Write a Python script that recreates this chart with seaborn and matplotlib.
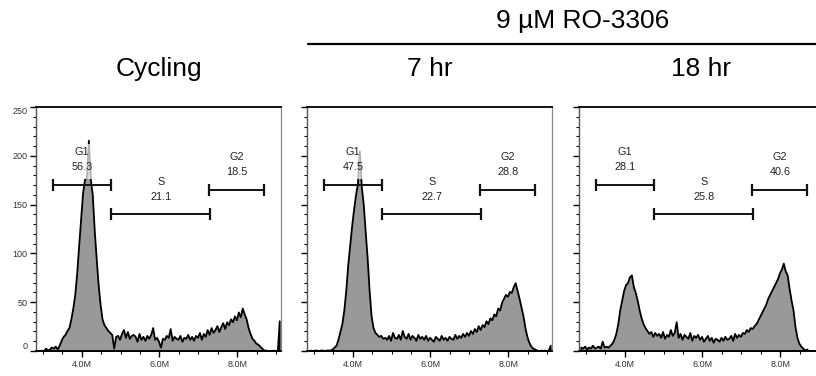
import numpy as np
import pandas as pd
import matplotlib
matplotlib.use("Agg")
import matplotlib.pyplot as plt
from matplotlib.patches import Rectangle
from matplotlib.ticker import FixedLocator, MultipleLocator
import seaborn as sns

# DNA content histograms: events per 0.05M bin, first bin starting at 2.85M
bin_start = 2.85
bin_width = 0.05

cycling_counts = [
    0, 0, 1, 0, 3, 1, 2, 4, 3, 5,
    2, 6, 11, 15, 17, 21, 24, 33, 44, 58,
    80, 108, 135, 162, 176, 178, 216, 176, 160, 124,
    95, 68, 48, 33, 27, 24, 21, 19, 17, 3,
    15, 16, 12, 18, 22, 14, 20, 13, 16, 17,
    15, 10, 18, 12, 15, 11, 16, 13, 17, 24,
    12, 14, 10, 4, 13, 12, 16, 14, 23, 11,
    15, 13, 12, 16, 10, 14, 13, 17, 12, 15,
    11, 16, 14, 19, 12, 18, 15, 22, 17, 24,
    19, 22, 26, 20, 25, 29, 23, 30, 27, 33,
    30, 36, 32, 40, 35, 44, 38, 33, 24, 18,
    13, 11, 8, 7, 5, 3, 1, 1, 0, 0,
    0, 1, 0, 0, 31,
]

ro_7hr_counts = [
    0, 1, 0, 1, 1, 0, 1, 1, 0, 1,
    1, 1, 2, 4, 6, 12, 20, 28, 42, 62,
    88, 108, 128, 145, 160, 172, 205, 168, 150, 122,
    95, 62, 36, 24, 19, 17, 15, 16, 13, 14,
    12, 16, 11, 19, 14, 13, 17, 12, 21, 15,
    13, 18, 12, 16, 14, 11, 17, 13, 15, 12,
    16, 11, 14, 12, 10, 15, 13, 11, 16, 12,
    14, 11, 15, 13, 12, 17, 13, 16, 14, 18,
    15, 19, 16, 21, 18, 23, 20, 26, 22, 27,
    25, 31, 28, 34, 32, 38, 36, 44, 42, 50,
    54, 58, 56, 61, 60, 66, 70, 62, 54, 45,
    36, 24, 15, 9, 5, 3, 2, 1, 0, 1,
    0, 1, 0, 1, 6,
]

ro_18hr_counts = [
    4, 3, 5, 2, 4, 3, 6, 3, 4, 5,
    3, 10, 4, 5, 4, 6, 8, 12, 18, 28,
    42, 52, 62, 68, 70, 76, 78, 66, 60, 52,
    42, 34, 28, 24, 21, 18, 20, 15, 19, 16,
    18, 14, 20, 13, 17, 15, 22, 16, 19, 30,
    14, 18, 12, 17, 15, 13, 19, 11, 16, 14,
    17, 12, 15, 10, 13, 16, 11, 14, 9, 13,
    12, 10, 14, 11, 15, 12, 13, 16, 11, 18,
    14, 17, 15, 19, 18, 22, 20, 24, 23, 26,
    28, 32, 36, 40, 44, 48, 54, 58, 62, 66,
    70, 74, 80, 84, 90, 82, 78, 64, 52, 42,
    25, 14, 8, 5, 3, 1, 2, 0, 0, 0,
    0, 0, 0, 0, 0,
]

panel_counts = [cycling_counts, ro_7hr_counts, ro_18hr_counts]
panel_titles = ["Cycling", "7 hr", "18 hr"]
treatment_label = "9 µM RO-3306"

# Cell-cycle gates (shared by all samples) and their percentages
gate_names = ["G1", "S", "G2"]
gate_lo = [3.27, 4.76, 7.28]
gate_hi = [4.76, 7.30, 8.69]
gate_level = [170, 140, 165]
gate_pct = [
    [56.3, 21.1, 18.5],
    [47.5, 22.7, 28.8],
    [28.1, 25.8, 40.6],
]

y_ticks = [0, 50, 100, 150, 200, 250]
x_ticks = [4.0, 6.0, 8.0]
x_tick_labels = ["4.0M", "6.0M", "8.0M"]
x_range = (2.83, 9.12)
y_range = (0, 250)

sns.set_style("white")
plt.rcParams["font.family"] = ["Liberation Sans", "DejaVu Sans"]

W, H = 816, 376
fig = plt.figure(figsize=(W / 100, H / 100), dpi=100)

# panel frames in pixels (left, right), shared top/bottom
panel_px = [(36, 281), (307, 552), (579, 824)]
top_px, bottom_px = 107, 351

fill_grey = "#999999"
title_size = 19

for i, (counts, (l, r)) in enumerate(zip(panel_counts, panel_px)):
    ax = fig.add_axes([l / W, (H - bottom_px) / H, (r - l) / W, (bottom_px - top_px) / H])
    counts = np.asarray(counts, dtype=float)
    n = len(counts)
    centers = bin_start + bin_width * (np.arange(n) + 0.5)
    df = pd.DataFrame({"dna": centers, "events": counts})
    sns.histplot(data=df, x="dna", weights="events", binwidth=bin_width,
                 binrange=(bin_start, bin_start + n * bin_width), element="poly",
                 fill=True, color=fill_grey, alpha=1.0, edgecolor="black",
                 linewidth=1.3, ax=ax, zorder=2)
    ax.set_xlim(*x_range)
    ax.set_ylim(*y_range)
    ax.set_xlabel("")
    ax.set_ylabel("")

    # translucent label backdrop over the G1 gate annotation
    g1c = 0.5 * (gate_lo[0] + gate_hi[0])
    ax.add_patch(Rectangle((g1c - 0.28, 176), 0.56, 36, facecolor="white",
                           alpha=0.7, edgecolor="none", zorder=3))

    # gates
    for j, name in enumerate(gate_names):
        lo, hi, lev = gate_lo[j], gate_hi[j], gate_level[j]
        ax.plot([lo, hi], [lev, lev], color="#111111", lw=1.4, zorder=4,
                solid_capstyle="butt")
        ax.plot([lo, hi], [lev, lev], ls="none", marker="|", ms=8, mew=1.6,
                color="#111111", zorder=4)
        cx = 0.5 * (lo + hi)
        ax.annotate(name, (cx, lev), xytext=(0, 23.5), textcoords="offset points",
                    ha="center", va="center", fontsize=7.8, color="#222222", zorder=5)
        ax.annotate(f"{gate_pct[i][j]:.1f}", (cx, lev), xytext=(0, 12.8),
                    textcoords="offset points", ha="center", va="center",
                    fontsize=7.8, color="#222222", zorder=5)

    # axes styling
    for side in ["top", "bottom"]:
        ax.spines[side].set_color("black")
        ax.spines[side].set_linewidth(1.3)
    ax.spines["left"].set_color("#555555")
    ax.spines["left"].set_linewidth(1.0)
    ax.spines["right"].set_color("#888888")
    ax.spines["right"].set_linewidth(0.9)
    for sp in ax.spines.values():
        sp.set_zorder(6)

    ax.yaxis.set_major_locator(FixedLocator(y_ticks))
    ax.yaxis.set_minor_locator(MultipleLocator(10))
    ax.xaxis.set_major_locator(FixedLocator(x_ticks))
    ax.xaxis.set_minor_locator(MultipleLocator(0.5))
    ax.tick_params(axis="both", which="major", direction="out", length=4.2,
                   width=1.0, color="black", left=True, bottom=True,
                   labelsize=6.5, labelcolor="#333333", pad=2)
    ax.tick_params(axis="both", which="minor", direction="out", length=2.4,
                   width=0.8, color="black", left=True, bottom=True)
    ax.set_xticklabels(x_tick_labels)
    if i == 0:
        ax.set_yticklabels([str(v) for v in y_ticks])
        ylabels = ax.get_yticklabels()
        ylabels[0].set_va("bottom")
        ylabels[-1].set_va("top")
    else:
        ax.set_yticklabels([])

    cx_px = 0.5 * (l + r)
    fig.text(cx_px / W, (H - 75.8) / H, panel_titles[i], ha="center",
             va="baseline", fontsize=title_size, color="black")

# treatment header with bar spanning the treated samples
fig.text(583 / W, (H - 28.3) / H, treatment_label, ha="center", va="baseline",
         fontsize=title_size, color="black")
fig.add_artist(plt.Line2D([308 / W, 1.0], [(H - 44) / H, (H - 44) / H],
                          color="black", lw=1.6, transform=fig.transFigure))

fig.savefig("out.png", dpi=100, facecolor="white")
